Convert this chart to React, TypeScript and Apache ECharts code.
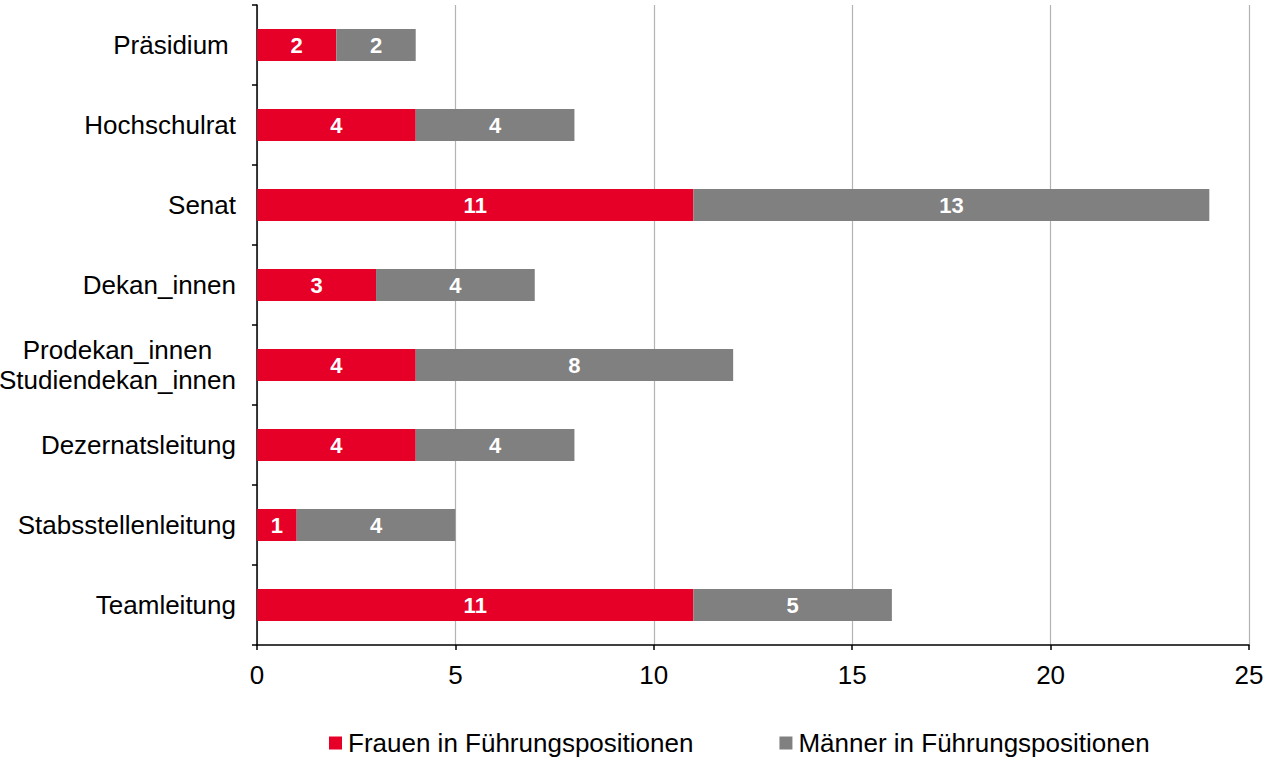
import React, { useEffect, useRef } from "react";
import * as echarts from "echarts";

const categories = [
  "Präsidium ",
  "Hochschulrat",
  "Senat",
  "Dekan_innen",
  "Prodekan_innen\nStudiendekan_innen",
  "Dezernatsleitung",
  "Stabsstellenleitung",
  "Teamleitung",
];
const frauen = [2, 4, 11, 3, 4, 4, 1, 11];
const maenner = [2, 4, 13, 4, 8, 4, 4, 5];
const seriesNames = ["Frauen in Führungspositionen", "Männer in Führungspositionen"];

const FONT = "'Liberation Sans', Arial, sans-serif";

export default function App() {
  const ref = useRef<HTMLDivElement>(null);
  useEffect(() => {
    if (!ref.current) return;
    const chart = echarts.init(ref.current, undefined, { renderer: "svg" });
    const barLabel = {
      show: true,
      position: "inside",
      color: "#ffffff",
      fontWeight: "bold",
      fontSize: 22,
      fontFamily: FONT,
    };
    chart.setOption({
      animation: false,
      backgroundColor: "#ffffff",
      textStyle: { fontFamily: FONT },
      grid: {
        left: 257,
        right: 17,
        top: 5,
        bottom: 115,
        containLabel: false,
        outerBoundsMode: "none",
      },
      legend: {
        left: 329,
        top: 730,
        padding: 0,
        itemWidth: 13,
        itemHeight: 13,
        itemGap: 86,
        icon: "rect",
        textStyle: { fontSize: 26, color: "#000000", fontFamily: FONT, padding: [0, 0, 0, 1] },
        data: seriesNames,
      },
      xAxis: {
        type: "value",
        min: 0,
        max: 25,
        interval: 5,
        axisLine: { show: true, lineStyle: { color: "#000000", width: 1.5 } },
        axisTick: { show: true, length: 5, lineStyle: { color: "#000000", width: 1.5 } },
        axisLabel: { fontSize: 26, color: "#000000", margin: 17, fontFamily: FONT },
        splitLine: { show: true, lineStyle: { color: "#b3b3b3", width: 1.2 } },
      },
      yAxis: {
        type: "category",
        inverse: true,
        data: categories,
        axisLine: { show: true, lineStyle: { color: "#000000", width: 1.5 } },
        axisTick: { show: true, length: 5, lineStyle: { color: "#000000", width: 1.5 } },
        axisLabel: {
          fontSize: 26,
          color: "#000000",
          margin: 21,
          lineHeight: 30,
          fontFamily: FONT,
          formatter: (v: string) =>
            v.includes("\n")
              ? v
                  .split("\n")
                  .map((s) => `{c|${s}}`)
                  .join("\n")
              : v,
          rich: {
            c: { align: "center", fontSize: 26, lineHeight: 30, color: "#000000", fontFamily: FONT },
          },
        },
        splitLine: { show: false },
      },
      series: [
        {
          name: seriesNames[0],
          type: "bar",
          stack: "total",
          data: frauen,
          barWidth: 32,
          itemStyle: { color: "#E60028" },
          label: barLabel,
        },
        {
          name: seriesNames[1],
          type: "bar",
          stack: "total",
          data: maenner,
          barWidth: 32,
          itemStyle: { color: "#808080" },
          label: barLabel,
        },
      ],
    });
    return () => chart.dispose();
  }, []);
  return (
    <div style={{ position: "fixed", left: 0, top: 0, width: 1266, height: 760, background: "#fff" }}>
      <div ref={ref} style={{ width: 1266, height: 760 }} />
    </div>
  );
}
